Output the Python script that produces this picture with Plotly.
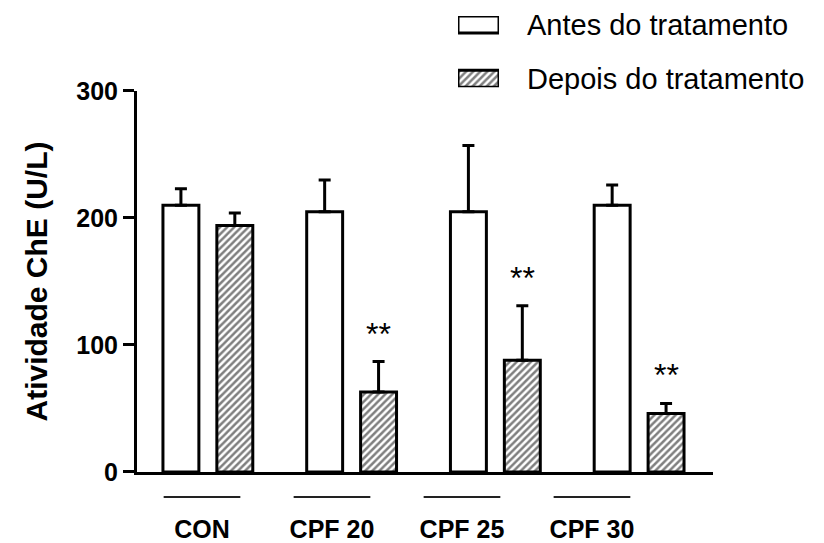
import plotly.graph_objects as go

# Cholinesterase activity before / after treatment
groups = ["CON", "CPF 20", "CPF 25", "CPF 30"]
antes = [210, 205, 205, 210]
antes_err = [13, 25, 52, 16]
depois = [194, 63, 88, 46]
depois_err = [10, 24, 43, 8]
signif = ["", "**", "**", "**"]

legend_labels = ["Antes do tratamento", "Depois do tratamento"]
legend_shapes = ["", "/"]

pos = list(range(len(groups)))
FONT = "Arial, Liberation Sans, sans-serif"
HATCH = dict(fgcolor="black", bgcolor="white", size=5, solidity=0.5)

fig = go.Figure()
fig.add_trace(go.Bar(
    x=pos, y=antes, name=legend_labels[0], showlegend=False,
    marker=dict(color="white", line=dict(color="black", width=3)),
    error_y=dict(type="data", array=antes_err, arrayminus=[0] * 4,
                 symmetric=False, color="black", thickness=3, width=6),
))
fig.add_trace(go.Bar(
    x=pos, y=depois, name=legend_labels[1], showlegend=False,
    marker=dict(color="white", line=dict(color="black", width=3),
                pattern=dict(shape="/", **HATCH)),
    error_y=dict(type="data", array=depois_err, arrayminus=[0] * 4,
                 symmetric=False, color="black", thickness=3, width=6),
))

# legend swatches drawn as bars on a small inset axis
fig.add_trace(go.Bar(
    y=[0, 1], x=[1, 1], orientation="h", width=0.312,
    xaxis="x3", yaxis="y3", showlegend=False, hoverinfo="skip",
    marker=dict(color="white", line=dict(color="black", width=3),
                pattern=dict(shape=legend_shapes, **HATCH)),
))
for lab, yy in zip(legend_labels, [0.9686, 0.8506]):
    fig.add_annotation(x=0.6736, y=yy, xref="paper", yref="paper",
                       text=lab, showarrow=False, xanchor="left",
                       yanchor="middle",
                       font=dict(family=FONT, size=29, color="black"))

# significance marks above the "after" bars
for i, (v, e, s) in enumerate(zip(depois, depois_err, signif)):
    if s:
        fig.add_annotation(x=i, y=v + e, xref="x", yref="y", text=s,
                           showarrow=False, xshift=27, yshift=8,
                           yanchor="bottom",
                           font=dict(family=FONT, size=32, color="black"))

# group underline bars
for i in pos:
    fig.add_shape(type="line", xref="x2", yref="paper",
                  x0=i - 0.295, x1=i + 0.295, y0=-0.0541, y1=-0.0541,
                  line=dict(color="#222", width=2))

fig.update_layout(
    width=824, height=543,
    margin=dict(l=137, r=111, t=10, b=71, autoexpand=False),
    paper_bgcolor="white", plot_bgcolor="white",
    barmode="group", bargap=0.25, bargroupgap=1 / 3,
    font=dict(family=FONT, color="black"),
    showlegend=False,
    xaxis=dict(range=[-0.493, 3.514], showline=True, linewidth=3,
               linecolor="black", showticklabels=False, ticks="",
               showgrid=False, zeroline=False),
    xaxis2=dict(overlaying="x", anchor="y", side="bottom",
                range=[-0.5, 3.931], tickvals=pos, ticktext=groups,
                showline=False, ticks="", showgrid=False, zeroline=False,
                ticklabelstandoff=40,
                tickfont=dict(family=FONT, size=25, color="black",
                              weight="bold")),
    yaxis=dict(domain=[0, 0.82468], range=[0, 300],
               tickvals=[0, 100, 200, 300],
               showline=True, linewidth=3, linecolor="black",
               ticks="outside", ticklen=11, tickwidth=3, tickcolor="black",
               showgrid=False, zeroline=False,
               tickfont=dict(family=FONT, size=25, color="black",
                             weight="bold"),
               title=dict(text="Atividade ChE (U/L)", standoff=20,
                          font=dict(family=FONT, size=30, color="black",
                                    weight="bold"))),
    xaxis3=dict(domain=[0.5573, 0.6285], anchor="y3", range=[0, 1],
                visible=False, fixedrange=True),
    yaxis3=dict(domain=[0.833, 0.987], anchor="x3", range=[1.156, -0.156],
                visible=False, fixedrange=True),
)

# empty trace so xaxis2 is rendered with its labels
fig.add_trace(go.Scatter(x=pos, y=[None] * 4, xaxis="x2", showlegend=False,
                         hoverinfo="skip"))

fig.write_html("out.html")
